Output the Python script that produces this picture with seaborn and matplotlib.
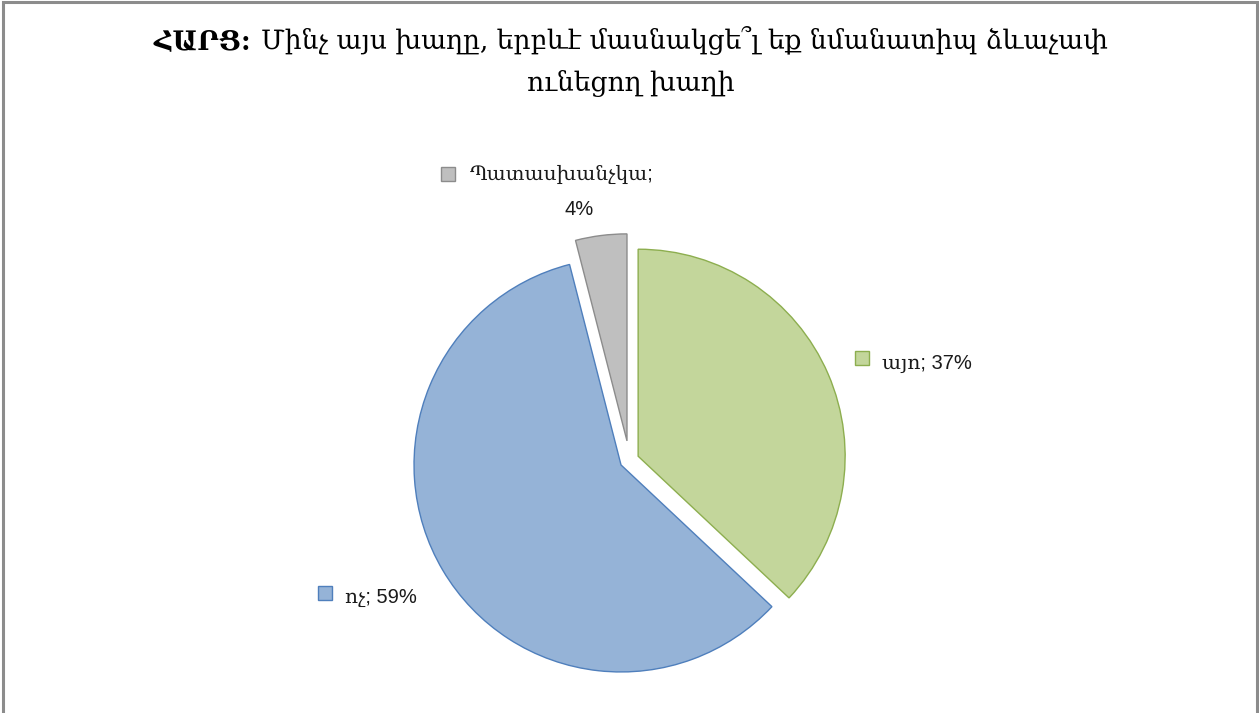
import matplotlib
matplotlib.use("Agg")
import matplotlib.pyplot as plt
import seaborn as sns
from matplotlib.patches import Rectangle

W, H = 1259, 713

labels = ["այո", "ոչ", "Պատասխանչկա"]
values = [37, 59, 4]
face_colors = ["#C3D69B", "#95B3D7", "#BFBFBF"]
edge_colors = ["#8DAE4F", "#4F7FBC", "#8C8C8C"]
explode = [0.046, 0.047, 0.093]

title_bold = "ՀԱՐՑ:"
title_rest = "Մինչ այս խաղը, երբևէ մասնակցե՞լ եք նմանատիպ ձևաչափ"
title_line2 = "ունեցող խաղի"

sns.set_style("white")
plt.rcParams['font.family'] = ['DejaVu Serif', 'DejaVu Sans']

fig = plt.figure(figsize=(W / 100, H / 100), dpi=100)
fig.patch.set_facecolor("white")

cx, cy, R = 629.4, 460.0, 207.0
ax = fig.add_axes([0, 0, 1, 1])

wedges, _ = ax.pie(values, colors=face_colors, explode=explode, startangle=90,
                   counterclock=False, radius=1, center=(0, 0),
                   wedgeprops=dict(linewidth=1.0))
for w, ec in zip(wedges, edge_colors):
    w.set_edgecolor(ec)

# pie() resets the limits, so set them afterwards
ax.set_xlim(-cx / R, (W - cx) / R)
ax.set_ylim(-(H - cy) / R, cy / R)
ax.set_aspect("equal")
ax.axis("off")


def fx(x):
    return x / W


def fy(y):
    return 1 - y / H


lab_font = ['Liberation Sans', 'DejaVu Serif']
lab_size = 14.5
lab_color = "#1a1a1a"


def key_box(x0, y0, i):
    fig.patches.append(Rectangle((fx(x0), fy(y0 + 14)), 14 / W, 14 / H,
                                 transform=fig.transFigure, facecolor=face_colors[i],
                                 edgecolor=edge_colors[i], linewidth=1.0))


# label positions (pixels)
key_box(855, 351, 0)
fig.text(fx(882), fy(369), f"{labels[0]}; {values[0]}%", family=lab_font,
         fontsize=lab_size, ha="left", va="baseline", color=lab_color)

key_box(318, 586, 1)
fig.text(fx(345), fy(603), f"{labels[1]}; {values[1]}%", family=lab_font,
         fontsize=lab_size, ha="left", va="baseline", color=lab_color)

key_box(441, 167, 2)
fig.text(fx(470), fy(180), f"{labels[2]};", family=lab_font,
         fontsize=lab_size, ha="left", va="baseline", color=lab_color)
fig.text(fx(579), fy(215), f"{values[2]}%", family=lab_font,
         fontsize=lab_size, ha="center", va="baseline", color=lab_color)

# title, bold prefix + normal rest, fitted to the reference width
renderer = fig.canvas.get_renderer()
fs = 17
t1 = fig.text(0, fy(49), title_bold + " ", fontsize=fs, weight="bold",
              va="baseline", ha="left", color="black")
t2 = fig.text(0, fy(49), title_rest, fontsize=fs, va="baseline", ha="left", color="black")
w_tot = t1.get_window_extent(renderer).width + t2.get_window_extent(renderer).width
fs = fs * 955 / w_tot
t1.set_fontsize(fs)
t2.set_fontsize(fs)
w1 = t1.get_window_extent(renderer).width
w2 = t2.get_window_extent(renderer).width
x0 = 631 - (w1 + w2) / 2
t1.set_x(fx(x0))
t2.set_x(fx(x0 + w1))
fig.text(fx(631), fy(91), title_line2, fontsize=fs, va="baseline", ha="center", color="black")

# chart frame
fig.patches.append(Rectangle((fx(3), -0.05), (1254) / W, 1.05 - 2 / H,
                             transform=fig.transFigure, fill=False,
                             edgecolor="#8C8C8C", linewidth=2.2))

fig.savefig("out.png", dpi=100, facecolor="white")
